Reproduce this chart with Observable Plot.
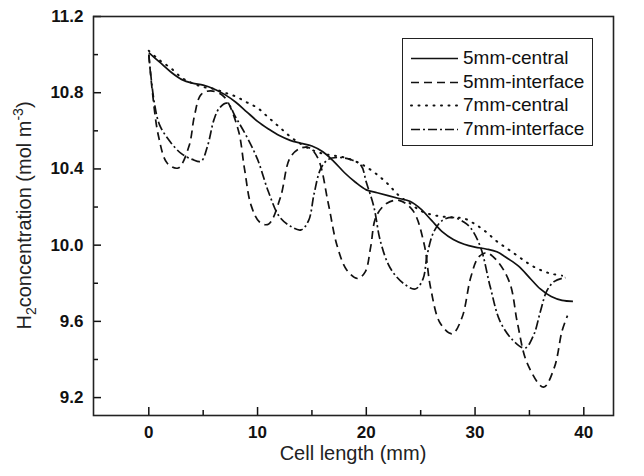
<!DOCTYPE html>
<html><head><meta charset="utf-8">
<script src="https://cdn.jsdelivr.net/npm/d3@7"></script>
<script src="https://cdn.jsdelivr.net/npm/@observablehq/plot@0.6"></script>
<style>
body{margin:0;background:#fff;font-family:"Liberation Sans",Arial,sans-serif}
#wrap{position:relative;width:644px;height:476px;overflow:hidden}
#legend{position:absolute;left:402px;top:38px;width:189px;height:106px;border:1.5px solid #222;background:#fff}
#legend .row{position:absolute;left:0;height:24px;width:189px}
#legend svg{position:absolute;left:6px;top:0}
#legend span{position:absolute;left:60px;top:0;line-height:24px;font-size:19px;color:#111;white-space:nowrap}
</style></head><body><div id="wrap"></div>
<script>
// ---- data ----
const seriesNames = ["5mm-central", "5mm-interface", "7mm-central", "7mm-interface"];
const seriesDash = ["none", "8,5", "1,6.5", "9,3,2,3"];

const central5X = [0,1,2,3,4,5,6,7,8,9,10,11,12,13,14,15,16,17,18,19,20,21,22,23,24,25,26,27,28,29,30,31,32,33,34,35,36,37,38,39];
const central5Y = [11.01,10.96,10.91,10.87,10.85,10.84,10.82,10.79,10.75,10.70,10.65,10.61,10.575,10.55,10.535,10.52,10.49,10.44,10.38,10.33,10.29,10.275,10.26,10.245,10.23,10.19,10.13,10.07,10.03,10.005,9.99,9.98,9.965,9.93,9.89,9.83,9.77,9.73,9.71,9.705];

const interface5X = [0,0.3,0.9,1.7,2.7,3.7,4.2,4.8,5.7,6.9,8.2,8.8,9.4,10.2,11.0,12.1,13.0,14.0,14.8,15.6,16.5,17.3,18.2,19.2,19.9,20.4,20.9,21.9,23.0,24.3,25.3,25.9,26.8,27.9,28.8,29.6,30.3,31.0,32.0,33.2,33.9,34.8,36.3,37.3,38.0,38.5];
const interface5Y = [11.00,10.82,10.57,10.43,10.405,10.52,10.68,10.79,10.81,10.78,10.61,10.40,10.21,10.12,10.11,10.25,10.46,10.51,10.51,10.45,10.22,10.00,9.87,9.825,9.86,9.99,10.15,10.22,10.235,10.18,10.01,9.78,9.59,9.535,9.62,9.83,9.935,9.96,9.92,9.80,9.59,9.38,9.255,9.36,9.55,9.63];

const central7X = [0,1,2,3,4,5,6,7,8,9,10,11,12,13,14,15,16,17,18,19,20,21,22,23,24,25,26,27,28,29,30,31,32,33,34,35,36,37,38];
const central7Y = [11.02,10.97,10.93,10.88,10.85,10.83,10.82,10.80,10.78,10.75,10.72,10.67,10.62,10.57,10.53,10.50,10.48,10.47,10.46,10.44,10.41,10.37,10.32,10.26,10.22,10.18,10.16,10.15,10.145,10.14,10.11,10.07,10.02,9.98,9.94,9.90,9.87,9.85,9.84];

const interface7X = [0,0.5,1,2,3,4,4.8,5.4,6,6.5,7.2,8,9,10,11,12,13,14,14.7,15.2,15.8,16.5,17.5,18.5,19.5,20,20.7,21.3,22.2,23.4,24.5,25.2,25.6,26.2,27,28,29,29.6,30.5,31.4,32.3,33.5,34.6,35.4,36,36.6,37.3,38.3];
const interface7Y = [11.00,10.75,10.63,10.54,10.48,10.45,10.44,10.52,10.66,10.72,10.745,10.67,10.57,10.45,10.28,10.15,10.10,10.08,10.13,10.27,10.40,10.45,10.46,10.45,10.42,10.33,10.20,10.02,9.88,9.80,9.77,9.82,9.95,10.07,10.13,10.145,10.12,10.09,9.99,9.78,9.60,9.50,9.46,9.53,9.65,9.76,9.81,9.83];

const xMajorTicks = [0,10,20,30,40];
const xMinorTicks = [5,15,25,35];
const yMajorTicks = [9.2,9.6,10.0,10.4,10.8,11.2];
const yMinorTicks = [9.4,9.8,10.2,10.6,11.0];
const xTitle = "Cell length (mm)";

// ---- build ----
const seriesX = [central5X, interface5X, central7X, interface7X];
const seriesY = [central5Y, interface5Y, central7Y, interface7Y];
const rows = seriesNames.map((name, i) => seriesX[i].map((x, j) => ({series: name, x, y: seriesY[i][j]})));

const W = 644, H = 476, mL = 93, mR = 31, mT = 16, mB = 61;
const iw = W - mL - mR, ih = H - mT - mB;
const ink = "#111";

const lineMarks = rows.map((r, i) => Plot.line(r, {
  x: "x", y: "y", stroke: ink,
  strokeWidth: i === 2 ? 2 : 1.7,
  strokeDasharray: seriesDash[i] === "none" ? null : seriesDash[i],
  strokeLinecap: i === 2 ? "round" : "butt",
  curve: "catmull-rom"
}));

const chart = Plot.plot({
  width: W, height: H,
  marginLeft: mL, marginRight: mR, marginTop: mT, marginBottom: mB,
  style: {fontFamily: "'Liberation Sans', Arial, sans-serif", background: "#fff", color: ink},
  x: {domain: [-5.085, 42.73]},
  y: {domain: [9.106, 11.2]},
  marks: [
    ...lineMarks,
    Plot.tickY(yMajorTicks, {y: d => d, insetRight: iw - 8, stroke: ink, strokeWidth: 1.5}),
    Plot.tickY(yMinorTicks, {y: d => d, insetRight: iw - 5, stroke: ink, strokeWidth: 1.5}),
    Plot.tickX(xMajorTicks, {x: d => d, insetTop: ih - 8, stroke: ink, strokeWidth: 1.5}),
    Plot.tickX(xMinorTicks, {x: d => d, insetTop: ih - 5, stroke: ink, strokeWidth: 1.5}),
    Plot.axisY(yMajorTicks, {tickSize: 0, tickPadding: 10, fontSize: 17, fontWeight: "bold", label: null, tickFormat: d3.format(".1f")}),
    Plot.axisX(xMajorTicks, {tickSize: 0, tickPadding: 10, fontSize: 17, fontWeight: "bold", label: null}),
    Plot.frame({stroke: "#222", strokeWidth: 1.6})
  ]
});

const svg = d3.select(chart);
// x title
svg.append("text")
  .attr("x", mL + iw / 2).attr("y", 460)
  .attr("text-anchor", "middle")
  .attr("font-size", 20).attr("fill", "#222")
  .text(xTitle);
// y title with sub/superscript
const yt = svg.append("text")
  .attr("transform", `translate(31,${mT + ih / 2}) rotate(-90)`)
  .attr("text-anchor", "middle")
  .attr("font-size", 20).attr("fill", "#222");
yt.append("tspan").text("H");
yt.append("tspan").attr("font-size", 14).attr("dy", 5).text("2");
yt.append("tspan").attr("dy", -5).text("concentration (mol m");
yt.append("tspan").attr("font-size", 14).attr("dy", -8).text("-3");
yt.append("tspan").attr("dy", 8).text(")");

const wrap = document.getElementById("wrap");
wrap.appendChild(chart);

// legend
const legend = document.createElement("div");
legend.id = "legend";
seriesNames.forEach((name, i) => {
  const row = document.createElement("div");
  row.className = "row";
  row.style.top = (7 + i * 23.6) + "px";
  const s = d3.create("svg").attr("width", 50).attr("height", 24);
  s.append("line").attr("x1", 2).attr("x2", 49).attr("y1", 12.5).attr("y2", 12.5)
    .attr("stroke", ink).attr("stroke-width", i === 2 ? 2 : 1.7)
    .attr("stroke-linecap", i === 2 ? "round" : "butt")
    .attr("stroke-dasharray", seriesDash[i] === "none" ? null : seriesDash[i]);
  row.appendChild(s.node());
  const t = document.createElement("span");
  t.textContent = name;
  row.appendChild(t);
  legend.appendChild(row);
});
wrap.appendChild(legend);
</script></body></html>
